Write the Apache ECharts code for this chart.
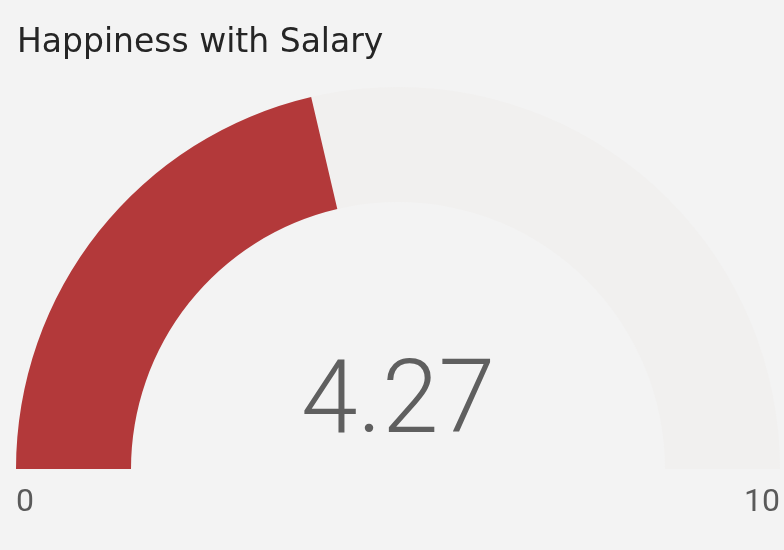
<!DOCTYPE html>
<html>
<head>
<meta charset="utf-8">
<script src="https://cdn.jsdelivr.net/npm/echarts@6/dist/echarts.min.js"></script>
<style>
html,body{margin:0;padding:0;background:#f3f3f3;}
#main{width:784px;height:550px;}
</style>
</head>
<body>
<div id="main"></div>
<script>
const titleText = 'Happiness with Salary';
const gaugeMin = 0;
const gaugeMax = 10;
const gaugeValue = 4.27;

const chart = echarts.init(document.getElementById('main'));
chart.setOption({
  animation: false,
  backgroundColor: '#f3f3f3',
  title: {
    text: titleText,
    left: 12,
    top: 22,
    textStyle: { fontFamily: 'DejaVu Sans', fontSize: 33, fontWeight: 'normal', color: '#252525' }
  },
  series: [{
    type: 'gauge',
    center: [398, 469],
    radius: 382,
    startAngle: 180,
    endAngle: 0,
    min: gaugeMin,
    max: gaugeMax,
    splitNumber: 1,
    pointer: { show: false },
    anchor: { show: false },
    progress: { show: true, width: 115, roundCap: false, itemStyle: { color: '#b3393a' } },
    axisLine: { lineStyle: { width: 115, color: [[1, '#f1f0ef']] } },
    axisTick: { show: false },
    splitLine: { show: false, length: 0, distance: 0 },
    axisLabel: {
      show: true,
      distance: 0,
      color: '#5a5a5a',
      fontFamily: 'Roboto',
      fontSize: 32,
      lineHeight: 68,
      formatter: function (v) { return '\n' + v; }
    },
    title: { show: false },
    detail: {
      show: true,
      offsetCenter: [0, -63],
      color: '#5f5f5f',
      fontFamily: 'Roboto',
      fontWeight: 300,
      fontSize: 102,
      formatter: function (v) { return v.toFixed(2); }
    },
    data: [{ value: gaugeValue }]
  }]
});
</script>
</body>
</html>
